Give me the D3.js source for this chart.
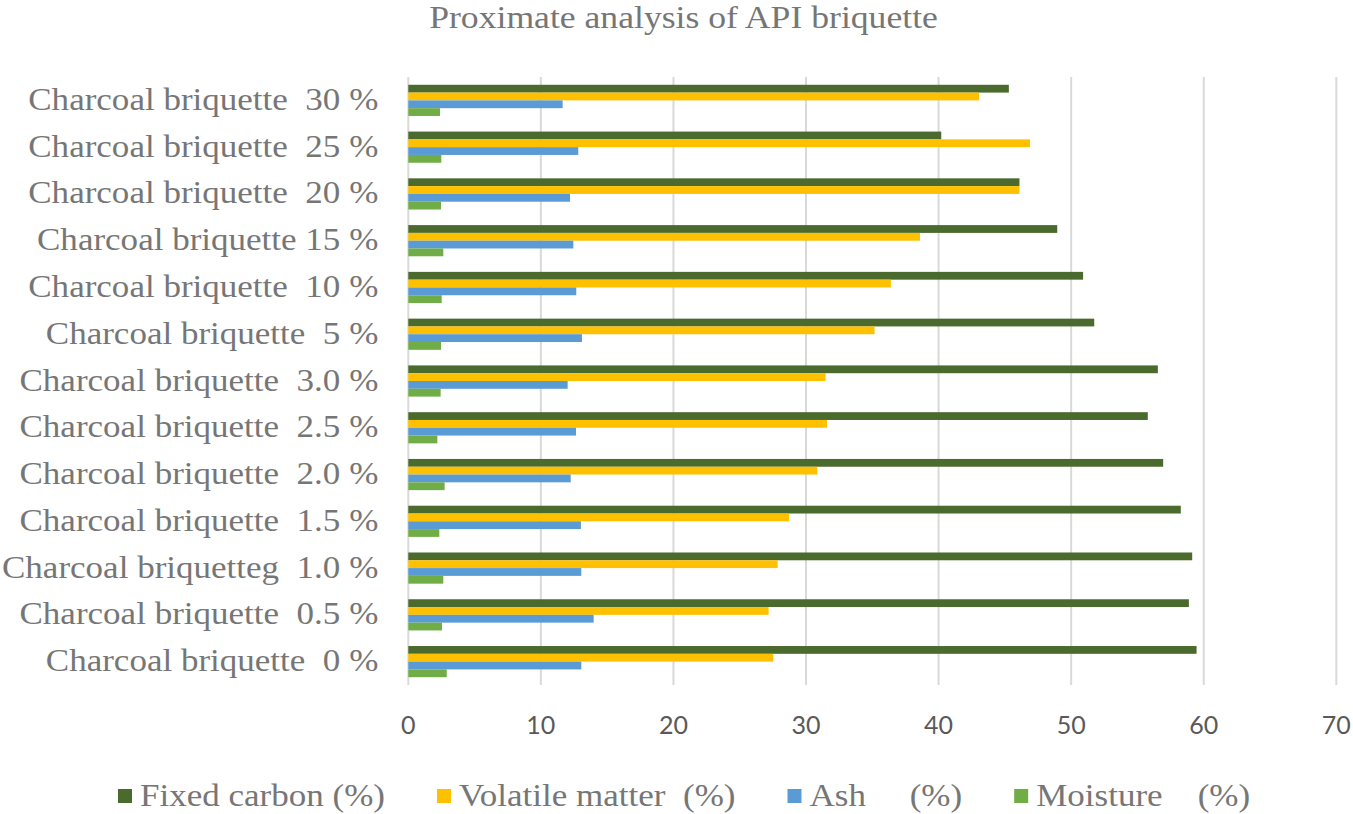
<!DOCTYPE html>
<html>
<head>
<meta charset="utf-8">
<script src="https://cdn.jsdelivr.net/npm/d3@7"></script>
<style>
  html, body { margin: 0; padding: 0; background: #fff; }
  svg text { white-space: pre; }
</style>
</head>
<body>
<svg id="chart" width="1353" height="814"></svg>
<script>
const title = "Proximate analysis of API briquette";
const categories = [
  "Charcoal briquette  30 %",
  "Charcoal briquette  25 %",
  "Charcoal briquette  20 %",
  "Charcoal briquette 15 %",
  "Charcoal briquette  10 %",
  "Charcoal briquette  5 %",
  "Charcoal briquette  3.0 %",
  "Charcoal briquette  2.5 %",
  "Charcoal briquette  2.0 %",
  "Charcoal briquette  1.5 %",
  "Charcoal briquetteg  1.0 %",
  "Charcoal briquette  0.5 %",
  "Charcoal briquette  0 %"
];
const seriesNames = ["Fixed carbon (%)", "Volatile matter  (%)", "Ash     (%)", "Moisture    (%)"];
const seriesColors = ["#4b6b2e", "#ffc000", "#5b9bd5", "#70ad47"];
const fixedCarbon    = [45.3, 40.2, 46.1, 48.95, 50.9, 51.74, 56.54, 55.78, 56.94, 58.27, 59.13, 58.88, 59.46];
const volatileMatter = [43.06, 46.9, 46.1, 38.6, 36.4, 35.17, 31.48, 31.58, 30.85, 28.73, 27.86, 27.18, 27.53];
const ash            = [11.64, 12.82, 12.2, 12.45, 12.67, 13.1, 12.02, 12.65, 12.25, 13.02, 13.05, 13.98, 13.05];
const moisture       = [2.39, 2.49, 2.47, 2.64, 2.52, 2.47, 2.44, 2.19, 2.74, 2.34, 2.64, 2.54, 2.9];
const xTicks = [0, 10, 20, 30, 40, 50, 60, 70];

const seriesValues = [fixedCarbon, volatileMatter, ash, moisture];

const svg = d3.select("#chart");
const W = 1353, H = 814;
const plot = { left: 408.3, right: 1336.3, top: 77, bottom: 685 };
const SERIF = "'Liberation Serif', 'Times New Roman', serif";
const TEXT_GREY = "#767676";
const SX = 1.13, FS = 31;

function serifText(g, str, x, y, anchor, sx) {
  return g.append("text")
    .attr("transform", `translate(${x},${y}) scale(${sx || SX},1)`)
    .attr("text-anchor", anchor)
    .attr("font-family", SERIF)
    .attr("font-size", FS)
    .attr("fill", TEXT_GREY)
    .text(str);
}

const x = d3.scaleLinear().domain([0, 70]).range([plot.left, plot.right]);
const y = d3.scaleBand().domain(categories).range([plot.top, plot.bottom])
  .paddingInner(1/3).paddingOuter(1/6);
const ys = d3.scaleBand().domain(d3.range(seriesNames.length)).range([0, y.bandwidth()]);

// gridlines
svg.append("g").selectAll("line").data(xTicks).join("line")
  .attr("x1", d => x(d)).attr("x2", d => x(d))
  .attr("y1", plot.top).attr("y2", plot.bottom)
  .attr("stroke", "#d9d9d9").attr("stroke-width", 2);

// bars
const rows = categories.map((c, i) => ({ c, vals: seriesValues.map(s => s[i]) }));
const gRows = svg.append("g").selectAll("g").data(rows).join("g")
  .attr("transform", d => `translate(0,${y(d.c)})`);
gRows.selectAll("rect").data(d => d.vals.map((v, k) => ({ v, k }))).join("rect")
  .attr("x", x(0))
  .attr("y", d => ys(d.k))
  .attr("width", d => x(d.v) - x(0))
  .attr("height", ys.bandwidth())
  .attr("fill", d => seriesColors[d.k]);

// category labels
const gLab = svg.append("g");
categories.forEach(c => {
  serifText(gLab, c, plot.left - 30, y(c) + y.bandwidth() / 2 + 9.5, "end");
});

// x tick labels
svg.append("g").selectAll("text").data(xTicks).join("text")
  .attr("x", d => x(d)).attr("y", 734)
  .attr("text-anchor", "middle")
  .attr("font-family", "Lato, 'Open Sans', sans-serif")
  .attr("font-size", 25)
  .attr("fill", "#595959")
  .text(d => d);

// title
serifText(svg, title, W / 2 + 7, 28, "middle", 1.15);

// legend
const gLeg = svg.append("g");
const legY = 796, sq = 14, sqGap = 8, itemGap = 52, LSX = 1.13;
const items = seriesNames.map((name, k) => {
  const g = gLeg.append("g");
  g.append("rect").attr("x", 0).attr("y", legY - sq / 2).attr("width", sq).attr("height", sq)
    .attr("fill", seriesColors[k]);
  const t = serifText(g, name, sq + sqGap, legY + 10, "start", LSX);
  const w = sq + sqGap + t.node().getComputedTextLength() * LSX;
  return { g, w };
});
let cx = 118;
items.forEach(it => { it.g.attr("transform", `translate(${cx},0)`); cx += it.w + itemGap; });
</script>
</body>
</html>
